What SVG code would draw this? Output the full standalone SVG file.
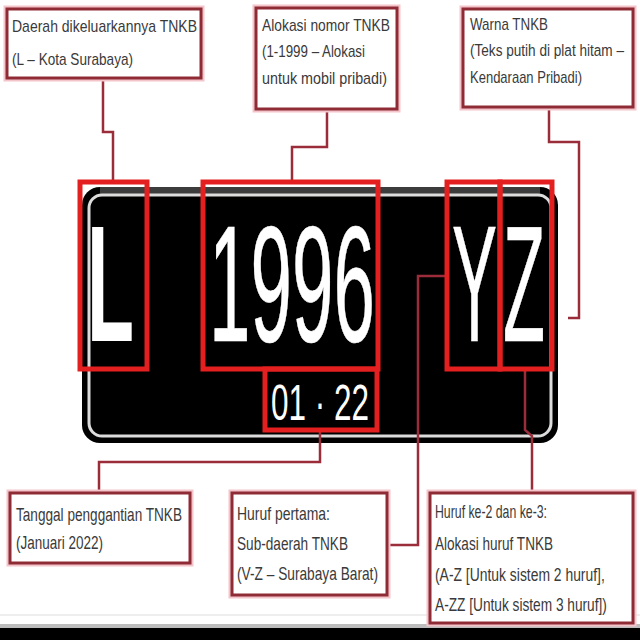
<svg xmlns="http://www.w3.org/2000/svg" width="640" height="640" viewBox="0 0 640 640">
<style>
.halo{fill:none;stroke:#f3c4ca;stroke-width:7;stroke-linejoin:miter}
.cbox{fill:#fff;stroke:#8e2b35;stroke-width:3}
.conn{fill:none;stroke:#9b2d3b;stroke-width:2.5;stroke-linejoin:miter}
.red{fill:none;stroke:#e3201f;stroke-width:5}
.lbl{font-family:"Liberation Sans",Arial,sans-serif;fill:#3a3a3a;font-size:17px}
.lbl2{font-family:"Liberation Sans",Arial,sans-serif;fill:#3a3a3a;font-size:19px}
.big{font-family:"Liberation Sans",Arial,sans-serif;fill:#fff;font-size:165px}
.small{font-family:"Liberation Sans",Arial,sans-serif;fill:#fff;font-size:50px}
</style>
<rect x="0" y="0" width="640" height="640" fill="#fff"/>
<rect x="0" y="614" width="640" height="2" fill="#eeeeee"/>
<rect x="0" y="624" width="640" height="4" fill="#bdbdbd"/>
<rect x="0" y="628" width="640" height="12" fill="#000"/>

<g id="plate">
<rect x="82" y="187" width="476" height="256" rx="18" fill="#000"/>
<rect x="100" y="187" width="440" height="7" fill="#3c3c3c"/>
<rect x="89" y="195" width="462" height="241" rx="13" fill="none" stroke="#dcdcdc" stroke-width="3"/>
<text class="big" transform="translate(87,341) scale(0.466,1)" font-weight="bold">L</text>
<text class="big" transform="translate(209,341) scale(0.452,1)" stroke="#fff" stroke-width="0.6">1996</text>
<text class="big" transform="translate(452,341) scale(0.409,1)" stroke="#fff" stroke-width="0.6">Y</text>
<text class="big" transform="translate(503,341) scale(0.417,1)" stroke="#fff" stroke-width="0.6">Z</text>
<text class="small" transform="translate(271,420) scale(0.63,1)">01 · 22</text>
</g>

<g id="connectors">
<path class="conn" d="M103,78 V132 H113 V181"/>
<path class="conn" d="M327,109 V147 H292 V181"/>
<path class="conn" d="M549,107 V142 H579 V318 H568"/>
<path class="conn" d="M320,430 V462 H99 V493"/>
<path class="conn" d="M447,276 H418 V545 H387"/>
<path class="conn" d="M525,370 V430 L532,436 V493"/>
</g>

<g id="highlights">
<rect class="red" x="80" y="182" width="67" height="187"/>
<rect class="red" x="203" y="182" width="175" height="187"/>
<rect class="red" x="265" y="369" width="112" height="61"/>
<rect class="red" x="447" y="182" width="53" height="187"/>
<rect class="red" x="500" y="182" width="52" height="187"/>
</g>

<g id="callout-daerah">
<rect class="halo" x="7" y="9" width="194" height="69"/>
<rect class="cbox" x="7" y="9" width="194" height="69"/>
<text class="lbl" x="12" y="32" textLength="185" lengthAdjust="spacingAndGlyphs">Daerah dikeluarkannya TNKB</text>
<text class="lbl" x="12" y="65" textLength="121" lengthAdjust="spacingAndGlyphs">(L – Kota Surabaya)</text>
</g>

<g id="callout-nomor">
<rect class="halo" x="256" y="8" width="141" height="101"/>
<rect class="cbox" x="256" y="8" width="141" height="101"/>
<text class="lbl" x="262" y="31" textLength="128" lengthAdjust="spacingAndGlyphs">Alokasi nomor TNKB</text>
<text class="lbl" x="262" y="57" textLength="103" lengthAdjust="spacingAndGlyphs">(1-1999 – Alokasi</text>
<text class="lbl" x="262" y="84" textLength="125" lengthAdjust="spacingAndGlyphs">untuk mobil pribadi)</text>
</g>

<g id="callout-warna">
<rect class="halo" x="463" y="9" width="170" height="98"/>
<rect class="cbox" x="463" y="9" width="170" height="98"/>
<text class="lbl" x="470" y="30" textLength="78" lengthAdjust="spacingAndGlyphs">Warna TNKB</text>
<text class="lbl" transform="translate(470,56) scale(0.80,1)">(Teks putih di plat hitam –</text>
<text class="lbl" x="470" y="83" textLength="112" lengthAdjust="spacingAndGlyphs">Kendaraan Pribadi)</text>
</g>

<g id="callout-tanggal">
<rect class="halo" x="10" y="493" width="180" height="70"/>
<rect class="cbox" x="10" y="493" width="180" height="70"/>
<text class="lbl2" x="16" y="521" textLength="166" lengthAdjust="spacingAndGlyphs">Tanggal penggantian TNKB</text>
<text class="lbl2" x="16" y="549" textLength="87" lengthAdjust="spacingAndGlyphs">(Januari 2022)</text>
</g>

<g id="callout-huruf1">
<rect class="halo" x="232" y="493" width="155" height="102"/>
<rect class="cbox" x="232" y="493" width="155" height="102"/>
<text class="lbl2" x="237" y="520" textLength="93" lengthAdjust="spacingAndGlyphs">Huruf pertama:</text>
<text class="lbl2" x="237" y="550" textLength="111" lengthAdjust="spacingAndGlyphs">Sub-daerah TNKB</text>
<text class="lbl2" x="237" y="580" textLength="141" lengthAdjust="spacingAndGlyphs">(V-Z – Surabaya Barat)</text>
</g>

<g id="callout-huruf23">
<rect class="halo" x="430" y="493" width="203" height="130"/>
<rect class="cbox" x="430" y="493" width="203" height="130"/>
<text class="lbl2" x="435" y="518" textLength="112" lengthAdjust="spacingAndGlyphs">Huruf ke-2 dan ke-3:</text>
<text class="lbl2" x="435" y="550" textLength="118" lengthAdjust="spacingAndGlyphs">Alokasi huruf TNKB</text>
<text class="lbl2" transform="translate(435,581) scale(0.732,1)">(A-Z [Untuk sistem 2 huruf],</text>
<text class="lbl2" transform="translate(435,611) scale(0.721,1)">A-ZZ [Untuk sistem 3 huruf])</text>
</g>
</svg>
